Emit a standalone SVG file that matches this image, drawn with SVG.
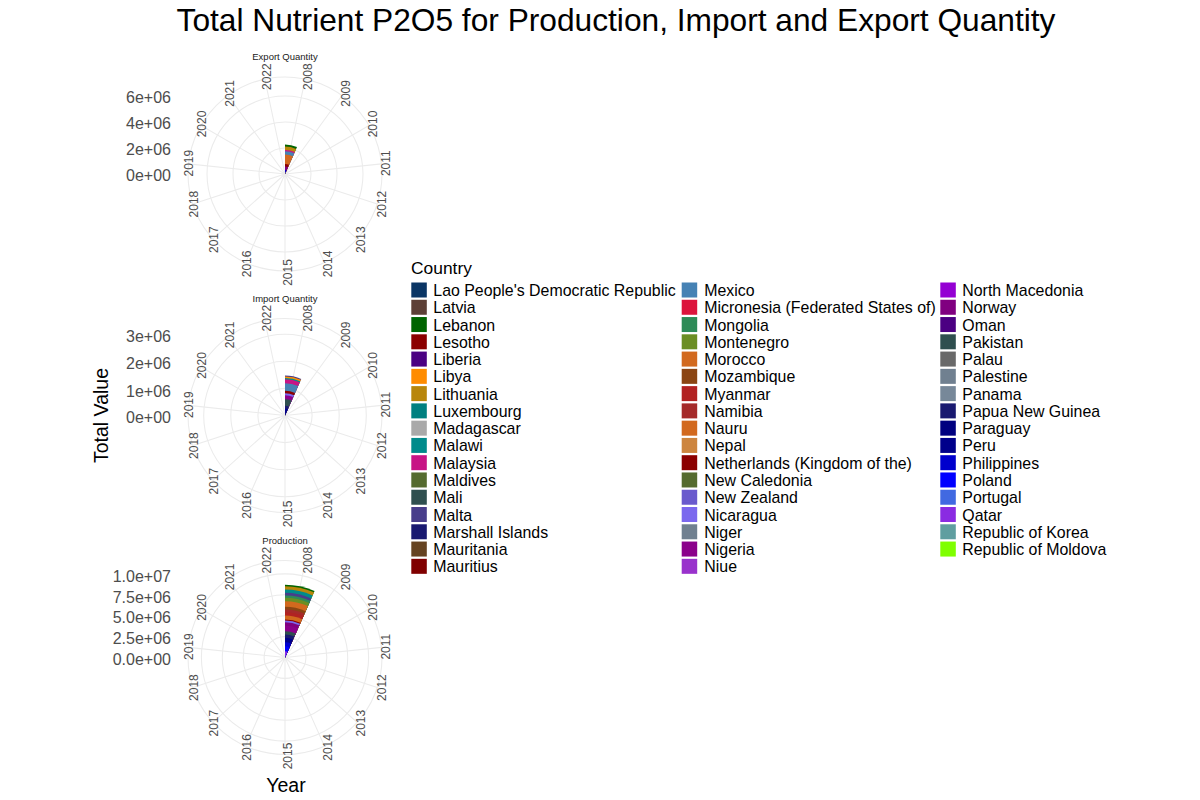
<svg xmlns="http://www.w3.org/2000/svg" xmlns:xlink="http://www.w3.org/1999/xlink" width="1200" height="800" viewBox="0 0 1200 800">
<style>
text { font-family: "Liberation Sans", Arial, sans-serif; }
.grid { fill: none; stroke: #EBEBEB; stroke-width: 1.07; }
.yr { font-size: 12px; fill: #4D4D4D; text-anchor: middle; }
.ylab { font-size: 16px; fill: #4D4D4D; text-anchor: end; }
.ptitle { font-size: 9.5px; fill: #1A1A1A; text-anchor: middle; }
.atitle { font-size: 19.5px; fill: #000; text-anchor: middle; }
.title { font-size: 31.7px; fill: #000; text-anchor: middle; }
.ltitle { font-size: 17.4px; fill: #000; }
.lt { font-size: 15.9px; fill: #000; }
</style>
<defs>
  <path id="spokes" class="grid" d="M0,0L20.17,-94.88M0,0L57.02,-78.47M0,0L84,-48.5M0,0L96.47,-10.14M0,0L92.25,29.97M0,0L72.09,64.91M0,0L39.45,88.61M0,0L0,97M0,0L-39.45,88.61M0,0L-72.09,64.91M0,0L-92.25,29.97M0,0L-96.47,-10.14M0,0L-84,-48.5M0,0L-57.02,-78.47M0,0L-20.17,-94.88"/>
  <g id="years">
    <text class="yr" transform="translate(23.1,-97.3) rotate(-90)" dy="0.35em">2008</text>
    <text class="yr" transform="translate(60.7,-80.6) rotate(-90)" dy="0.35em">2009</text>
    <text class="yr" transform="translate(88.2,-50) rotate(-90)" dy="0.35em">2010</text>
    <text class="yr" transform="translate(101,-10.8) rotate(-90)" dy="0.35em">2011</text>
    <text class="yr" transform="translate(96.7,30.1) rotate(-90)" dy="0.35em">2012</text>
    <text class="yr" transform="translate(76.1,65.7) rotate(-90)" dy="0.35em">2013</text>
    <text class="yr" transform="translate(42.8,89.9) rotate(-90)" dy="0.35em">2014</text>
    <text class="yr" transform="translate(2.5,98.5) rotate(-90)" dy="0.35em">2015</text>
    <text class="yr" transform="translate(-37.8,89.9) rotate(-90)" dy="0.35em">2016</text>
    <text class="yr" transform="translate(-71.1,65.7) rotate(-90)" dy="0.35em">2017</text>
    <text class="yr" transform="translate(-91.7,30.1) rotate(-90)" dy="0.35em">2018</text>
    <text class="yr" transform="translate(-96,-10.8) rotate(-90)" dy="0.35em">2019</text>
    <text class="yr" transform="translate(-83.2,-50) rotate(-90)" dy="0.35em">2020</text>
    <text class="yr" transform="translate(-55.7,-80.6) rotate(-90)" dy="0.35em">2021</text>
    <text class="yr" transform="translate(-18.1,-97.3) rotate(-90)" dy="0.35em">2022</text>
  </g>
</defs>

<rect width="1200" height="800" fill="#FFFFFF"/>

<text id="title" class="title" x="616" y="31">Total Nutrient P2O5 for Production, Import and Export Quantity</text>

<!-- Export Quantity panel -->
<g id="panel-export" transform="translate(285,174)">
  <text class="ptitle" x="0" y="-114">Export Quantity</text>
  <circle class="grid" r="26"/><circle class="grid" r="52"/><circle class="grid" r="78"/><circle class="grid" r="97"/>
  <use xlink:href="#spokes"/>
  <g id="bars-export">
    <path fill="#006400" d="M0,0L0,-29.5A29.5,29.5 0 0 1 12,-26.95Z"/>
    <path fill="#B8860B" d="M0,0L0,-27.5A27.5,27.5 0 0 1 11.19,-25.12Z"/>
    <path fill="#C71585" d="M0,0L0,-24A24,24 0 0 1 9.76,-21.93Z"/>
    <path fill="#4682B4" d="M0,0L0,-22.8A22.8,22.8 0 0 1 9.27,-20.83Z"/>
    <path fill="#D2691E" d="M0,0L0,-19.5A19.5,19.5 0 0 1 7.93,-17.81Z"/>
    <path fill="#8B0000" d="M0,0L0,-10A10,10 0 0 1 4.07,-9.14Z"/>
    <path fill="#800080" d="M0,0L0,-7.5A7.5,7.5 0 0 1 3.05,-6.85Z"/>
    <path fill="#0000CD" d="M0,0L0,-4A4,4 0 0 1 1.63,-3.65Z"/>
    <path fill="#708090" d="M0,0L0,-2A2,2 0 0 1 0.81,-1.83Z"/>
  </g>
  <use xlink:href="#years"/>
  <text class="ylab" x="-114" y="-70.9">6e+06</text>
  <text class="ylab" x="-114" y="-44.9">4e+06</text>
  <text class="ylab" x="-114" y="-18.9">2e+06</text>
  <text class="ylab" x="-114" y="7.1">0e+00</text>
</g>

<!-- Import Quantity panel -->
<g id="panel-import" transform="translate(285,415.5)">
  <text class="ptitle" x="0" y="-114">Import Quantity</text>
  <circle class="grid" r="27.1"/><circle class="grid" r="54.2"/><circle class="grid" r="81.3"/><circle class="grid" r="97"/>
  <use xlink:href="#spokes"/>
  <g id="bars-import">
    <path fill="#483D8B" d="M0,0L0,-40A40,40 0 0 1 16.27,-36.54Z"/>
    <path fill="#FF8C00" d="M0,0L0,-39A39,39 0 0 1 15.86,-35.63Z"/>
    <path fill="#008B8B" d="M0,0L0,-37.5A37.5,37.5 0 0 1 15.25,-34.26Z"/>
    <path fill="#C71585" d="M0,0L0,-36.3A36.3,36.3 0 0 1 14.76,-33.16Z"/>
    <path fill="#4682B4" d="M0,0L0,-32.3A32.3,32.3 0 0 1 13.14,-29.51Z"/>
    <path fill="#8B0000" d="M0,0L0,-24.7A24.7,24.7 0 0 1 10.05,-22.56Z"/>
    <path fill="#7B68EE" d="M0,0L0,-22.3A22.3,22.3 0 0 1 9.07,-20.37Z"/>
    <path fill="#8B008B" d="M0,0L0,-20.3A20.3,20.3 0 0 1 8.26,-18.55Z"/>
    <path fill="#2F4F4F" d="M0,0L0,-16.3A16.3,16.3 0 0 1 6.63,-14.89Z"/>
    <path fill="#191970" d="M0,0L0,-9.7A9.7,9.7 0 0 1 3.95,-8.86Z"/>
    <path fill="#00008B" d="M0,0L0,-7A7,7 0 0 1 2.85,-6.39Z"/>
  </g>
  <use xlink:href="#years"/>
  <text class="ylab" x="-114" y="-73.7">3e+06</text>
  <text class="ylab" x="-114" y="-47">2e+06</text>
  <text class="ylab" x="-114" y="-19">1e+06</text>
  <text class="ylab" x="-114" y="7.6">0e+00</text>
</g>

<!-- Production panel -->
<g id="panel-production" transform="translate(285,657.5)">
  <text class="ptitle" x="0" y="-113.5">Production</text>
  <circle class="grid" r="20.9"/><circle class="grid" r="41.8"/><circle class="grid" r="62.7"/><circle class="grid" r="83.6"/><circle class="grid" r="97"/>
  <use xlink:href="#spokes"/>
  <g id="bars-production">
    <path fill="#006400" d="M0,0L0,-72.7A72.7,72.7 0 0 1 29.57,-66.41Z"/>
    <path fill="#B8860B" d="M0,0L0,-71.3A71.3,71.3 0 0 1 29,-65.14Z"/>
    <path fill="#008B8B" d="M0,0L0,-68A68,68 0 0 1 27.66,-62.12Z"/>
    <path fill="#483D8B" d="M0,0L0,-64.7A64.7,64.7 0 0 1 26.32,-59.11Z"/>
    <path fill="#2E8B57" d="M0,0L0,-62A62,62 0 0 1 25.22,-56.64Z"/>
    <path fill="#6B8E23" d="M0,0L0,-59.7A59.7,59.7 0 0 1 24.28,-54.54Z"/>
    <path fill="#D2691E" d="M0,0L0,-56.3A56.3,56.3 0 0 1 22.9,-51.43Z"/>
    <path fill="#8B4513" d="M0,0L0,-50.7A50.7,50.7 0 0 1 20.62,-46.32Z"/>
    <path fill="#A52A2A" d="M0,0L0,-48A48,48 0 0 1 19.52,-43.85Z"/>
    <path fill="#B22222" d="M0,0L0,-45.3A45.3,45.3 0 0 1 18.43,-41.38Z"/>
    <path fill="#D2691E" d="M0,0L0,-42A42,42 0 0 1 17.08,-38.37Z"/>
    <path fill="#8B0000" d="M0,0L0,-38A38,38 0 0 1 15.46,-34.71Z"/>
    <path fill="#7B68EE" d="M0,0L0,-37A37,37 0 0 1 15.05,-33.8Z"/>
    <path fill="#800080" d="M0,0L0,-35.3A35.3,35.3 0 0 1 14.36,-32.25Z"/>
    <path fill="#8B008B" d="M0,0L0,-32A32,32 0 0 1 13.02,-29.23Z"/>
    <path fill="#2F4F4F" d="M0,0L0,-26.3A26.3,26.3 0 0 1 10.7,-24.03Z"/>
    <path fill="#191970" d="M0,0L0,-23A23,23 0 0 1 9.35,-21.01Z"/>
    <path fill="#00008B" d="M0,0L0,-19.7A19.7,19.7 0 0 1 8.01,-18Z"/>
    <path fill="#0000CD" d="M0,0L0,-15.3A15.3,15.3 0 0 1 6.22,-13.98Z"/>
    <path fill="#0000FF" d="M0,0L0,-11.3A11.3,11.3 0 0 1 4.6,-10.32Z"/>
    <path fill="#8A2BE2" d="M0,0L0,-6.3A6.3,6.3 0 0 1 2.56,-5.76Z"/>
  </g>
  <use xlink:href="#years"/>
  <text class="ylab" x="-114" y="-76">1.0e+07</text>
  <text class="ylab" x="-114" y="-55">7.5e+06</text>
  <text class="ylab" x="-114" y="-34.4">5.0e+06</text>
  <text class="ylab" x="-114" y="-13.4">2.5e+06</text>
  <text class="ylab" x="-114" y="7.6">0.0e+00</text>
</g>

<!-- Axis titles -->
<text id="y-title" class="atitle" transform="translate(108,415.5) rotate(-90)">Total Value</text>
<text id="x-title" class="atitle" x="286" y="791.5">Year</text>

<!-- Legend -->
<g id="legend">
  <text class="ltitle" x="411" y="274">Country</text>
  <g id="legend-col1">
    <rect x="411.3" y="282.5" width="15.5" height="15" fill="#0A3564"/><text class="lt" x="433.3" y="296">Lao People's Democratic Republic</text>
    <rect x="411.3" y="299.77" width="15.5" height="15" fill="#5D4037"/><text class="lt" x="433.3" y="313.27">Latvia</text>
    <rect x="411.3" y="317.04" width="15.5" height="15" fill="#006400"/><text class="lt" x="433.3" y="330.54">Lebanon</text>
    <rect x="411.3" y="334.31" width="15.5" height="15" fill="#8B0000"/><text class="lt" x="433.3" y="347.81">Lesotho</text>
    <rect x="411.3" y="351.58" width="15.5" height="15" fill="#4B0082"/><text class="lt" x="433.3" y="365.08">Liberia</text>
    <rect x="411.3" y="368.85" width="15.5" height="15" fill="#FF8C00"/><text class="lt" x="433.3" y="382.35">Libya</text>
    <rect x="411.3" y="386.12" width="15.5" height="15" fill="#B8860B"/><text class="lt" x="433.3" y="399.62">Lithuania</text>
    <rect x="411.3" y="403.39" width="15.5" height="15" fill="#008080"/><text class="lt" x="433.3" y="416.89">Luxembourg</text>
    <rect x="411.3" y="420.66" width="15.5" height="15" fill="#A9A9A9"/><text class="lt" x="433.3" y="434.16">Madagascar</text>
    <rect x="411.3" y="437.93" width="15.5" height="15" fill="#008B8B"/><text class="lt" x="433.3" y="451.43">Malawi</text>
    <rect x="411.3" y="455.2" width="15.5" height="15" fill="#C71585"/><text class="lt" x="433.3" y="468.7">Malaysia</text>
    <rect x="411.3" y="472.47" width="15.5" height="15" fill="#556B2F"/><text class="lt" x="433.3" y="485.97">Maldives</text>
    <rect x="411.3" y="489.74" width="15.5" height="15" fill="#2F4F4F"/><text class="lt" x="433.3" y="503.24">Mali</text>
    <rect x="411.3" y="507.01" width="15.5" height="15" fill="#483D8B"/><text class="lt" x="433.3" y="520.51">Malta</text>
    <rect x="411.3" y="524.28" width="15.5" height="15" fill="#191970"/><text class="lt" x="433.3" y="537.78">Marshall Islands</text>
    <rect x="411.3" y="541.55" width="15.5" height="15" fill="#654321"/><text class="lt" x="433.3" y="555.05">Mauritania</text>
    <rect x="411.3" y="558.82" width="15.5" height="15" fill="#800000"/><text class="lt" x="433.3" y="572.32">Mauritius</text>
  </g>
  <g id="legend-col2">
    <rect x="681.7" y="282.5" width="15.5" height="15" fill="#4682B4"/><text class="lt" x="704.3" y="296">Mexico</text>
    <rect x="681.7" y="299.77" width="15.5" height="15" fill="#DC143C"/><text class="lt" x="704.3" y="313.27">Micronesia (Federated States of)</text>
    <rect x="681.7" y="317.04" width="15.5" height="15" fill="#2E8B57"/><text class="lt" x="704.3" y="330.54">Mongolia</text>
    <rect x="681.7" y="334.31" width="15.5" height="15" fill="#6B8E23"/><text class="lt" x="704.3" y="347.81">Montenegro</text>
    <rect x="681.7" y="351.58" width="15.5" height="15" fill="#D2691E"/><text class="lt" x="704.3" y="365.08">Morocco</text>
    <rect x="681.7" y="368.85" width="15.5" height="15" fill="#8B4513"/><text class="lt" x="704.3" y="382.35">Mozambique</text>
    <rect x="681.7" y="386.12" width="15.5" height="15" fill="#B22222"/><text class="lt" x="704.3" y="399.62">Myanmar</text>
    <rect x="681.7" y="403.39" width="15.5" height="15" fill="#A52A2A"/><text class="lt" x="704.3" y="416.89">Namibia</text>
    <rect x="681.7" y="420.66" width="15.5" height="15" fill="#D2691E"/><text class="lt" x="704.3" y="434.16">Nauru</text>
    <rect x="681.7" y="437.93" width="15.5" height="15" fill="#CD853F"/><text class="lt" x="704.3" y="451.43">Nepal</text>
    <rect x="681.7" y="455.2" width="15.5" height="15" fill="#8B0000"/><text class="lt" x="704.3" y="468.7">Netherlands (Kingdom of the)</text>
    <rect x="681.7" y="472.47" width="15.5" height="15" fill="#556B2F"/><text class="lt" x="704.3" y="485.97">New Caledonia</text>
    <rect x="681.7" y="489.74" width="15.5" height="15" fill="#6A5ACD"/><text class="lt" x="704.3" y="503.24">New Zealand</text>
    <rect x="681.7" y="507.01" width="15.5" height="15" fill="#7B68EE"/><text class="lt" x="704.3" y="520.51">Nicaragua</text>
    <rect x="681.7" y="524.28" width="15.5" height="15" fill="#708090"/><text class="lt" x="704.3" y="537.78">Niger</text>
    <rect x="681.7" y="541.55" width="15.5" height="15" fill="#8B008B"/><text class="lt" x="704.3" y="555.05">Nigeria</text>
    <rect x="681.7" y="558.82" width="15.5" height="15" fill="#9932CC"/><text class="lt" x="704.3" y="572.32">Niue</text>
  </g>
  <g id="legend-col3">
    <rect x="940.3" y="282.5" width="15.5" height="15" fill="#9400D3"/><text class="lt" x="962.3" y="296">North Macedonia</text>
    <rect x="940.3" y="299.77" width="15.5" height="15" fill="#800080"/><text class="lt" x="962.3" y="313.27">Norway</text>
    <rect x="940.3" y="317.04" width="15.5" height="15" fill="#4B0082"/><text class="lt" x="962.3" y="330.54">Oman</text>
    <rect x="940.3" y="334.31" width="15.5" height="15" fill="#2F4F4F"/><text class="lt" x="962.3" y="347.81">Pakistan</text>
    <rect x="940.3" y="351.58" width="15.5" height="15" fill="#696969"/><text class="lt" x="962.3" y="365.08">Palau</text>
    <rect x="940.3" y="368.85" width="15.5" height="15" fill="#708090"/><text class="lt" x="962.3" y="382.35">Palestine</text>
    <rect x="940.3" y="386.12" width="15.5" height="15" fill="#778899"/><text class="lt" x="962.3" y="399.62">Panama</text>
    <rect x="940.3" y="403.39" width="15.5" height="15" fill="#191970"/><text class="lt" x="962.3" y="416.89">Papua New Guinea</text>
    <rect x="940.3" y="420.66" width="15.5" height="15" fill="#000080"/><text class="lt" x="962.3" y="434.16">Paraguay</text>
    <rect x="940.3" y="437.93" width="15.5" height="15" fill="#00008B"/><text class="lt" x="962.3" y="451.43">Peru</text>
    <rect x="940.3" y="455.2" width="15.5" height="15" fill="#0000CD"/><text class="lt" x="962.3" y="468.7">Philippines</text>
    <rect x="940.3" y="472.47" width="15.5" height="15" fill="#0000FF"/><text class="lt" x="962.3" y="485.97">Poland</text>
    <rect x="940.3" y="489.74" width="15.5" height="15" fill="#4169E1"/><text class="lt" x="962.3" y="503.24">Portugal</text>
    <rect x="940.3" y="507.01" width="15.5" height="15" fill="#8A2BE2"/><text class="lt" x="962.3" y="520.51">Qatar</text>
    <rect x="940.3" y="524.28" width="15.5" height="15" fill="#5F9EA0"/><text class="lt" x="962.3" y="537.78">Republic of Korea</text>
    <rect x="940.3" y="541.55" width="15.5" height="15" fill="#7FFF00"/><text class="lt" x="962.3" y="555.05">Republic of Moldova</text>
  </g>
</g>
</svg>
